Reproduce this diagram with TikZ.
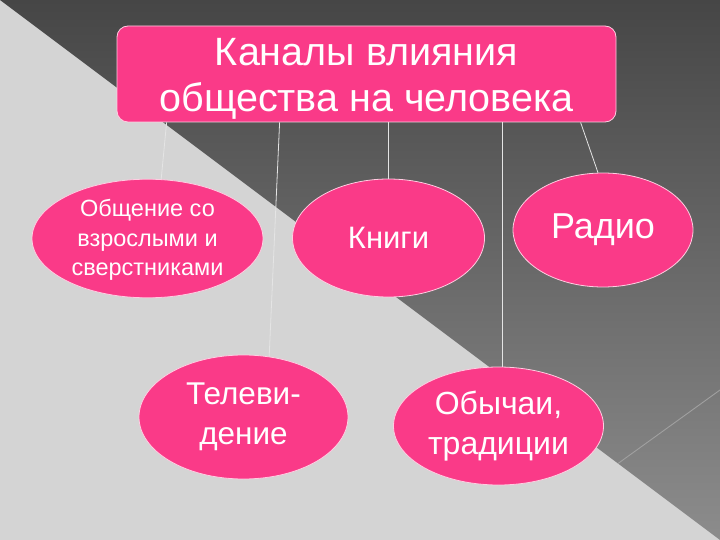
\documentclass[tikz,border=0pt]{standalone}
\usepackage{fontspec}
\setmainfont{Liberation Sans}
\usetikzlibrary{shapes.geometric,calc}
\definecolor{pinkfill}{RGB}{250,58,136}
\definecolor{pinkedge}{RGB}{255,205,225}
\definecolor{bglight}{RGB}{212,212,212}
\definecolor{bgdarktop}{RGB}{70,70,70}
\definecolor{bgdarkbot}{RGB}{140,140,140}
\definecolor{linkcol}{RGB}{228,228,228}
\definecolor{thinline}{RGB}{160,160,160}
\tikzset{
  titlebox/.style={draw=pinkedge, line width=0.8pt, fill=pinkfill, rounded corners=11pt,
    minimum width=499pt, minimum height=96pt, inner sep=0pt, align=center, text=white},
  oval/.style={ellipse, draw=pinkedge, line width=0.8pt, fill=pinkfill, inner sep=0pt,
    align=center, text=white},
  link/.style={draw=linkcol, line width=0.8pt}
}
\begin{document}
\begin{tikzpicture}[x=1pt,y=-1pt]
\useasboundingbox (0,0) rectangle (720,540);
% background
\fill[bglight] (0,0) rectangle (720,540);
\shade[top color=bgdarktop, bottom color=bgdarkbot] (0,0) -- (720,0) -- (720,540) -- cycle;
\draw[draw=thinline, line width=0.9pt] (618,463.5) -- (720,390);

% nodes
\node[titlebox, font=\fontsize{39.5}{46}\selectfont] (title) at (366.5,74)
  {\rule{0pt}{36pt}Каналы влияния\\общества на человека};
\node[oval, minimum width=231pt, minimum height=118pt, font=\fontsize{23.5}{29.5}\selectfont] (e1) at (147.5,238.5)
  {\rule{0pt}{20pt}Общение со\\взрослыми и\\сверстниками};
\node[oval, minimum width=192pt, minimum height=118pt, font=\fontsize{31}{36}\selectfont] (kn) at (388.5,238)
  {Книги};
\node[oval, minimum width=180pt, minimum height=114pt, font=\fontsize{36}{42}\selectfont] (ra) at (603,230)
  {Радио};
\node[oval, minimum width=209pt, minimum height=124pt, font=\fontsize{31.5}{40}\selectfont] (tv) at (243.5,417)
  {Телеви-\\дение};
\node[oval, minimum width=210pt, minimum height=118pt, font=\fontsize{32}{40}\selectfont] (ob) at (498.5,426)
  {Обычаи,\\традиции};

% connectors
\draw[link] ([xshift=50pt]title.south west) -- (e1.77);
\draw[link] ([xshift=163pt]title.south west) -- (tv.67);
\draw[link] (title.south -| kn.north) -- (kn.north);
\draw[link] (title.south -| ob.86) -- (ob.86);
\draw[link] ([xshift=464pt]title.south west) -- (ra.95);
\end{tikzpicture}
\end{document}
